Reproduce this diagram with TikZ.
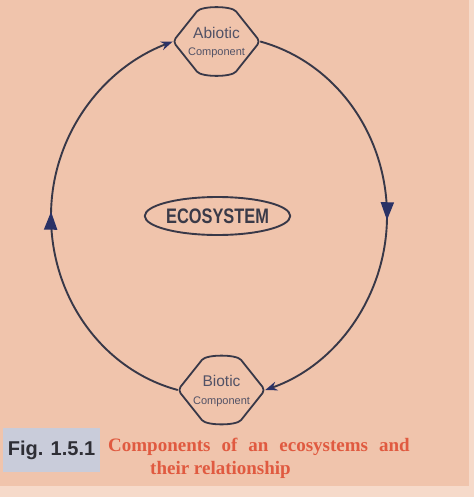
\documentclass[tikz,border=0pt]{standalone}
\usepackage{fontspec}
\setmainfont{Liberation Serif}
\newfontfamily\sansf{Liberation Sans}
\newfontfamily\condf[FakeStretch=0.78]{Liberation Sans}
\usetikzlibrary{arrows.meta,decorations.markings,shapes.geometric}
\definecolor{bgpeach}{HTML}{F0C4AC}
\definecolor{bglight}{HTML}{F6DACA}
\definecolor{linecol}{HTML}{383848}
\definecolor{arrowcol}{HTML}{2B3266}
\definecolor{nodetxt}{HTML}{525266}
\definecolor{ecotxt}{HTML}{3A3A48}
\definecolor{capblue}{HTML}{C9CCDA}
\definecolor{figtxt}{HTML}{2E2E35}
\definecolor{captred}{HTML}{E05A40}
\newcommand\widespaces{\spaceskip=11pt\relax}
\begin{document}
\begin{tikzpicture}[x=1pt,y=-1pt,
  comp/.style={rectangle,inner sep=0pt,minimum width=87pt,minimum height=67pt},
  comptext/.style={align=center,inner sep=0pt,text=nodetxt,font=\sansf\fontsize{15.5}{17.4}\selectfont},
  compshape/.pic={
    \draw[linecol,line width=1.8pt,rounded corners=4pt]
      (-43.5,0) -- (-22,-27) .. controls (-15,-35.8) and (15,-35.8) .. (22,-27)
      -- (43.5,0) -- (22,27) .. controls (15,35.8) and (-15,35.8) .. (-22,27) -- cycle;
  },
  conn/.style={draw=linecol,line width=1.9pt},
  endarrow/.style={-{Stealth[length=12pt,width=9pt,color=arrowcol]}},
  midarrow/.style={postaction={decorate},decoration={markings,
      mark=at position 0.515 with {\arrow{Triangle[length=18pt,width=13pt,color=arrowcol]}}}},
  eco/.style={ellipse,draw=linecol,line width=1.9pt,inner sep=0pt,minimum width=145pt,minimum height=38pt,
      text=ecotxt,font=\condf\bfseries\fontsize{21}{24}\selectfont},
  figbox/.style={rectangle,fill=capblue,inner sep=0pt,minimum width=97pt,minimum height=44pt,
      text=figtxt,font=\sansf\bfseries\fontsize{20}{24}\selectfont},
  captxt/.style={align=left,inner sep=0pt,text=captred,
      font=\bfseries\fontsize{19}{23}\selectfont}
]
\useasboundingbox (0,0) rectangle (474,497);
\fill[bgpeach] (0,0) rectangle (474,497);
\fill[bglight] (0,486) rectangle (474,497);
\fill[bglight] (469,0) rectangle (474,497);

% components
\node[comp] (abiotic) at (216.5,41.5) {};
\pic at (abiotic.center) {compshape};
\node[comptext] (abiotictxt) at (216.5,42.7) {Abiotic\\{\fontsize{11}{13}\selectfont Component}};

\node[comp] (biotic) at (221.5,390) {};
\pic at (biotic.center) {compshape};
\node[comptext] (biotictxt) at (221.5,391.2) {Biotic\\{\fontsize{11}{13}\selectfont Component}};

\node[eco] (eco) at (217.5,216) {ECOSYSTEM};

\coordinate (R) at (387,216);
\coordinate (L) at (51,216);

% cycle connectors
\draw[conn,endarrow,midarrow] (abiotic.east) .. controls (335,62) and (387,134) .. (R)
   .. controls (387,295) and (337,365) .. (biotic.east);
\draw[conn,endarrow,midarrow] (biotic.west) .. controls (103,370) and (51,298) .. (L)
   .. controls (51,137) and (101,69) .. (abiotic.west);

% caption
\node[figbox] (fig) at (51.5,450) {Fig. 1.5.1};
\node[captxt,anchor=north west] (cap) at (108,437.5) {\widespaces Components of an ecosystems and\\\hspace*{42pt}their relationship};
\end{tikzpicture}
\end{document}
